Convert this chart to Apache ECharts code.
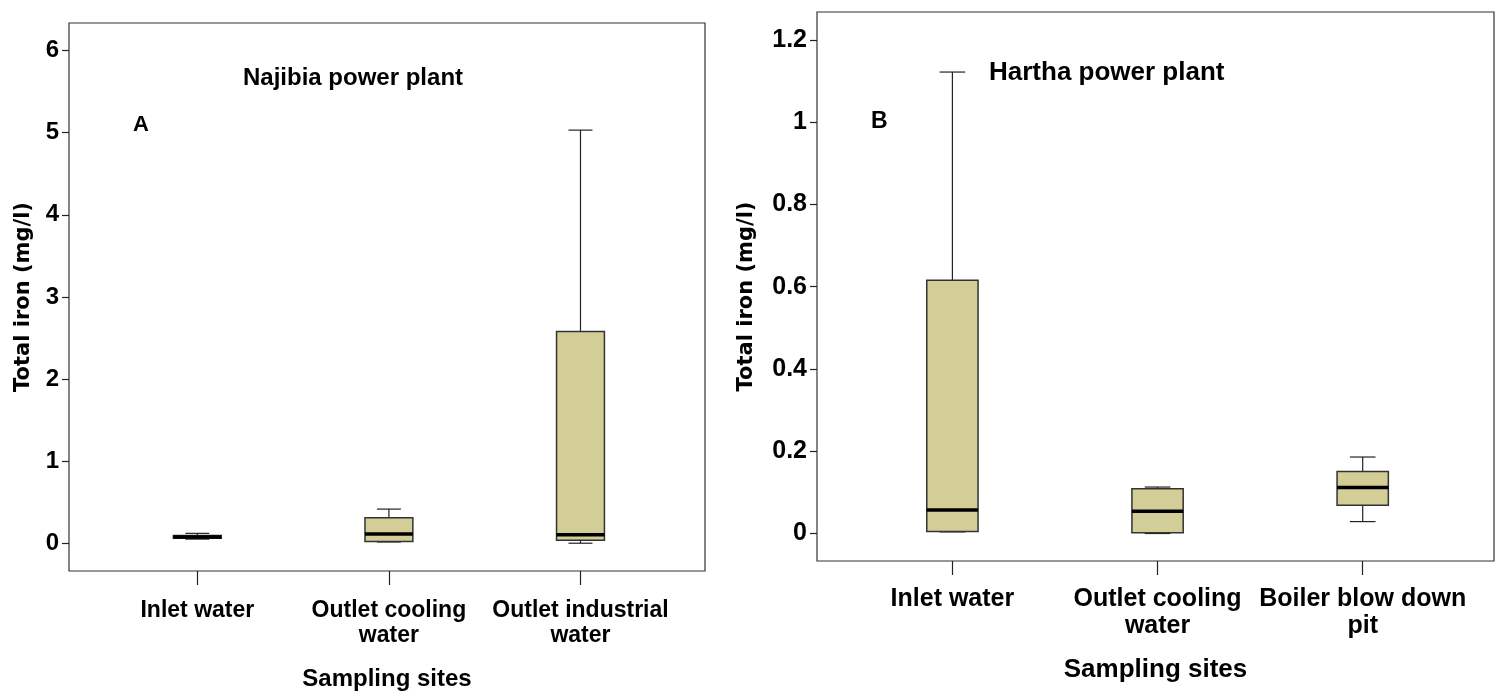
<!DOCTYPE html>
<html>
<head>
<meta charset="utf-8">
<script src="https://cdn.jsdelivr.net/npm/echarts@6/dist/echarts.min.js"></script>
<style>
html,body{margin:0;padding:0;background:#fff;}
#chart{width:1504px;height:691px;}
</style>
</head>
<body>
<div id="chart"></div>
<script>
// ---- Data ----
const categoriesA = ['Inlet water', 'Outlet cooling\nwater', 'Outlet industrial\nwater'];
const categoriesB = ['Inlet water', 'Outlet cooling\nwater', 'Boiler blow down\npit'];
// [min, Q1, median, Q3, max]
const boxesA = [
  [0.055, 0.065, 0.08, 0.10, 0.125],
  [0.02, 0.025, 0.118, 0.315, 0.42],
  [0.005, 0.04, 0.108, 2.58, 5.03]
];
const boxesB = [
  [0.004, 0.005, 0.057, 0.616, 1.122],
  [0.0, 0.002, 0.054, 0.109, 0.113],
  [0.029, 0.069, 0.112, 0.151, 0.186]
];
const yTicksA = [0, 1, 2, 3, 4, 5, 6];
const yTicksB = [0, 0.2, 0.4, 0.6, 0.8, 1, 1.2];
const xTicks = [0, 1, 2];
const titleA = 'Najibia power plant';
const titleB = 'Hartha power plant';
const yTitle = 'Total iron (mg/l)';
const xTitle = 'Sampling sites';

const NARROW = "'Liberation Sans Narrow', 'Arial Narrow', 'Liberation Sans', sans-serif";
const WIDE = "'DejaVu Sans', Verdana, sans-serif";
const BOX_FILL = '#d3ce97';

function renderBox(params, api) {
  const x = api.value(0);
  const mn = api.value(1), q1 = api.value(2), md = api.value(3), q3 = api.value(4), mx = api.value(5);
  const unit = api.size([1, 0])[0];
  const hw = unit * 0.25 / 2;
  const cw = hw / 2;
  const pMin = api.coord([x, mn]);
  const pQ1 = api.coord([x, q1]);
  const pMd = api.coord([x, md]);
  const pQ3 = api.coord([x, q3]);
  const pMax = api.coord([x, mx]);
  const cx = pMd[0];
  const thin = {stroke: '#222', lineWidth: 1.2};
  return {
    type: 'group',
    children: [
      {type: 'line', shape: {x1: cx, y1: pQ3[1], x2: cx, y2: pMax[1]}, style: thin},
      {type: 'line', shape: {x1: cx, y1: pQ1[1], x2: cx, y2: pMin[1]}, style: thin},
      {type: 'line', shape: {x1: cx - cw, y1: pMax[1], x2: cx + cw, y2: pMax[1]}, style: thin},
      {type: 'line', shape: {x1: cx - cw, y1: pMin[1], x2: cx + cw, y2: pMin[1]}, style: thin},
      {type: 'rect', shape: {x: cx - hw, y: pQ3[1], width: hw * 2, height: pQ1[1] - pQ3[1]},
        style: {fill: BOX_FILL, stroke: '#333', lineWidth: 1.5}},
      {type: 'line', shape: {x1: cx - hw, y1: pMd[1], x2: cx + hw, y2: pMd[1]}, style: {stroke: '#000', lineWidth: 3.5}}
    ]
  };
}

function xAxisFor(gridIndex, cats, min, max, fs, nameFs, margin, nameGap) {
  return {
    type: 'value', gridIndex: gridIndex, min: min, max: max,
    name: xTitle, nameLocation: 'middle', nameGap: nameGap,
    nameTextStyle: {fontFamily: NARROW, fontWeight: 'bold', fontSize: nameFs, color: '#000'},
    axisLine: {show: false, onZero: false},
    splitLine: {show: false},
    axisTick: {show: true, length: 14, customValues: xTicks, lineStyle: {color: '#222', width: 1.2}},
    axisLabel: {
      customValues: xTicks, margin: margin, color: '#000',
      fontFamily: NARROW, fontWeight: 'bold', fontSize: fs, lineHeight: fs + 2,
      formatter: function (v) { return cats[Math.round(v)]; }
    }
  };
}

function yAxisFor(gridIndex, min, max, ticks, gap, fs, namePad) {
  return {
    type: 'value', gridIndex: gridIndex, min: min, max: max,
    name: yTitle, nameLocation: 'middle', nameGap: gap, nameRotate: 90,
    nameTextStyle: {fontFamily: WIDE, fontWeight: 'bold', fontSize: 21, color: '#000', padding: namePad},
    axisLine: {show: false, onZero: false},
    splitLine: {show: false},
    axisTick: {show: true, length: 7, customValues: ticks, lineStyle: {color: '#222', width: 1.2}},
    axisLabel: {
      customValues: ticks, margin: 10, color: '#000',
      fontFamily: NARROW, fontWeight: 'bold', fontSize: fs,
      formatter: function (v) { return String(v); }
    }
  };
}

const chart = echarts.init(document.getElementById('chart'), null, {renderer: 'canvas'});
chart.setOption({
  animation: false,
  backgroundColor: '#fff',
  grid: [
    {left: 69, top: 23, width: 636, height: 548, outerBoundsMode: 'none', containLabel: false,
      show: true, borderColor: '#333', borderWidth: 1.2, backgroundColor: 'transparent'},
    {left: 817, top: 12, width: 677, height: 549, outerBoundsMode: 'none', containLabel: false,
      show: true, borderColor: '#333', borderWidth: 1.2, backgroundColor: 'transparent'}
  ],
  xAxis: [
    xAxisFor(0, categoriesA, -0.67, 2.65, 23, 24, 27, 96),
    xAxisFor(1, categoriesB, -0.66, 2.64, 25, 26, 25, 96)
  ],
  yAxis: [
    yAxisFor(0, -0.333, 6.333, yTicksA, 35, 24, [0, 0, 0, 0]),
    yAxisFor(1, -0.0668, 1.268, yTicksB, 60, 25, [0, 20, 0, 0])
  ],
  graphic: [
    {type: 'text', left: 243, top: 66, style: {text: titleA, font: "bold 24px " + NARROW, fill: '#000'}},
    {type: 'text', left: 133, top: 114, style: {text: 'A', font: "bold 22px " + NARROW, fill: '#000'}},
    {type: 'text', left: 989, top: 60, style: {text: titleB, font: "bold 26px " + NARROW, fill: '#000'}},
    {type: 'text', left: 871, top: 110, style: {text: 'B', font: "bold 23px " + NARROW, fill: '#000'}}
  ],
  series: [
    {type: 'custom', xAxisIndex: 0, yAxisIndex: 0, renderItem: renderBox,
      data: boxesA.map(function (b, i) { return [i].concat(b); })},
    {type: 'custom', xAxisIndex: 1, yAxisIndex: 1, renderItem: renderBox,
      data: boxesB.map(function (b, i) { return [i].concat(b); })}
  ]
});
</script>
</body>
</html>
